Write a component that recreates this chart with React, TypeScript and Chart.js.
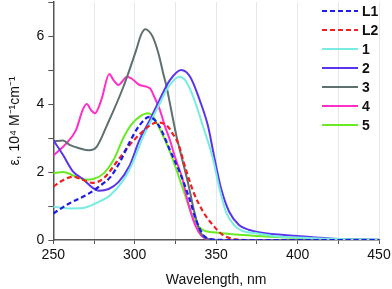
import React, { useEffect, useRef } from "react";
import { Chart, registerables } from "chart.js";

Chart.register(...registerables);

const seriesLabels = ["L1", "L2", "1", "2", "3", "4", "5"];

const wlL1 = [250, 260, 272, 278, 285, 291, 297, 303, 309, 315, 322, 328, 333, 338, 343, 350, 360, 450];
const epsL1 = [0.78, 1.08, 1.37, 1.57, 1.85, 2.3, 2.89, 3.38, 3.62, 3.35, 2.6, 1.95, 1.3, 0.55, 0.1, 0.01, 0, 0];

const wlL2 = [250, 256, 262, 268, 274, 281, 289, 297, 305, 311, 315, 320, 323, 327, 330, 336, 342, 348, 354, 362, 370, 450];
const epsL2 = [1.57, 1.76, 1.86, 1.77, 1.68, 1.82, 2.3, 2.8, 3.2, 3.42, 3.45, 3.35, 3.15, 2.8, 2.3, 1.42, 0.83, 0.44, 0.15, 0.02, 0, 0];

const wl1 = [250, 260, 268, 276, 285, 293, 299, 305, 310, 315, 320, 324, 327.5, 331, 336, 342, 348, 352, 356, 361, 366, 375, 385, 400, 430, 450];
const eps1 = [0.98, 0.93, 0.94, 1.08, 1.32, 1.76, 2.3, 3.02, 3.5, 3.98, 4.45, 4.7, 4.8, 4.7, 4.2, 3.33, 2.4, 1.52, 0.83, 0.44, 0.27, 0.2, 0.12, 0.07, 0.02, 0.01];

const wl2 = [250, 256, 262, 268, 274, 278, 284, 290, 297, 303, 309, 315, 321.6, 328.5, 334, 340, 345, 349, 353, 358, 364, 370, 377, 400, 426, 450];
const eps2 = [2.94, 2.5, 2.02, 1.8, 1.54, 1.45, 1.5, 1.7, 2.2, 2.95, 3.5, 4.1, 4.7, 5.0, 4.8, 4.1, 3.35, 2.4, 1.52, 0.83, 0.44, 0.3, 0.22, 0.12, 0.03, 0.01];

const wl3 = [250, 256, 260, 266, 272, 276.6, 283, 293, 301, 304, 306.5, 308.5, 311, 314.5, 317.5, 319.6, 321.6, 323.6, 325.7, 329, 333, 336, 340, 345, 350, 450];
const eps3 = [2.9, 2.93, 2.8, 2.7, 2.64, 2.74, 3.38, 4.5, 5.6, 6.05, 6.2, 6.15, 5.98, 5.5, 4.9, 4.5, 4.02, 3.53, 3.04, 2.4, 1.62, 0.95, 0.26, 0.03, 0, 0];

const wl4 = [250, 258, 264, 268, 270.5, 273.5, 275.6, 279.5, 284.4, 287, 289.9, 295.4, 298, 303, 309.3, 312.4, 315.5, 318.5, 321.6, 325, 329, 333, 337, 341, 345, 350, 450];
const eps4 = [2.48, 2.84, 3.24, 3.82, 4.0, 3.8, 3.73, 4.12, 4.88, 4.7, 4.56, 4.8, 4.75, 4.56, 4.46, 4.17, 3.82, 3.35, 2.94, 2.4, 1.85, 1.05, 0.45, 0.12, 0.02, 0, 0];

const wl5 = [250, 256, 264, 270, 275, 281, 287, 293, 298, 303, 308, 311, 315, 322, 330, 336, 342, 350, 362, 375, 400, 450];
const eps5 = [1.96, 2.0, 1.86, 1.77, 1.8, 1.96, 2.35, 3.0, 3.4, 3.63, 3.73, 3.65, 3.3, 2.55, 1.45, 0.64, 0.29, 0.22, 0.16, 0.12, 0.06, 0.01];

const xTicks = [250, 300, 350, 400, 450];
const yTicks = [0, 2, 4, 6];

const seriesX = [wlL1, wlL2, wl1, wl2, wl3, wl4, wl5];
const seriesY = [epsL1, epsL2, eps1, eps2, eps3, eps4, eps5];
const colors = ["#1c1ce8", "#f02020", "#78ece0", "#5a34ec", "#5f7070", "#ff2fc8", "#6aea22"];
const dashed = [true, true, false, false, false, false, false];

const FONT = "'Liberation Sans', Arial, sans-serif";

const legendPlugin = {
  id: "insideLegend",
  afterDraw(chart: any) {
    const ctx = chart.ctx;
    ctx.save();
    chart.data.datasets.forEach((ds: any, i: number) => {
      const y = 11 + i * 19;
      ctx.beginPath();
      ctx.strokeStyle = ds.borderColor;
      ctx.lineWidth = ds.borderWidth;
      ctx.setLineDash(ds.borderDash || []);
      ctx.moveTo(322, y);
      ctx.lineTo(358, y);
      ctx.stroke();
      ctx.setLineDash([]);
      ctx.fillStyle = "#111";
      ctx.font = `bold 14px ${FONT}`;
      ctx.textBaseline = "middle";
      ctx.textAlign = "left";
      ctx.fillText(ds.label, 362, y + 1);
    });
    ctx.restore();
  },
};

export default function App() {
  const ref = useRef<HTMLCanvasElement | null>(null);
  useEffect(() => {
    if (!ref.current) return;
    const datasets = seriesLabels.map((label, i) => ({
      label,
      data: seriesX[i].map((x, j) => ({ x, y: seriesY[i][j] })),
      borderColor: colors[i],
      backgroundColor: colors[i],
      borderWidth: dashed[i] ? 2.2 : 2,
      borderDash: dashed[i] ? [5, 3] : [],
      pointRadius: 0,
      cubicInterpolationMode: "monotone" as const,
      fill: false,
    }));
    const chart = new Chart(ref.current, {
      type: "line",
      data: { datasets },
      plugins: [legendPlugin],
      options: {
        responsive: false,
        animation: false,
        layout: { padding: { left: 0, right: 13, top: 2, bottom: 0 } },
        plugins: { legend: { display: false }, tooltip: { enabled: false } },
        scales: {
          x: {
            type: "linear",
            min: 250,
            max: 450,
            afterFit: (s: any) => {
              s.height = 49;
              s.paddingLeft = 0;
              s.paddingRight = 0;
            },
            ticks: {
              stepSize: 25,
              autoSkip: false,
              maxRotation: 0,
              padding: 3,
              color: "#111",
              font: { family: FONT, size: 14 },
              callback: (v: any) => (xTicks.includes(Number(v)) ? String(v) : ""),
            },
            grid: {
              color: (c: any) => (c.tick && c.tick.value === 250 ? "rgba(0,0,0,0)" : "#e3e8ef"),
              tickColor: "#555",
              tickLength: 4,
              lineWidth: 1,
            },
            border: { color: "#555", width: 1.5 },
            title: {
              display: true,
              text: "Wavelength, nm",
              color: "#111",
              font: { family: FONT, size: 14 },
              padding: { top: 4, bottom: 0 },
            },
          },
          y: {
            min: 0,
            max: 7,
            afterFit: (s: any) => {
              s.width = 53.3;
              s.paddingTop = 0;
              s.paddingBottom = 0;
            },
            ticks: {
              stepSize: 1,
              autoSkip: false,
              padding: 4,
              color: "#111",
              font: { family: FONT, size: 14 },
              callback: (v: any) => (yTicks.includes(Number(v)) ? String(v) : ""),
            },
            grid: { drawOnChartArea: false, tickColor: "#555", tickLength: 5 },
            border: { color: "#555", width: 1.5 },
            title: {
              display: true,
              text: "ε, 10⁴ M⁻¹cm⁻¹",
              color: "#111",
              font: { family: FONT, size: 14 },
              padding: { top: 7, bottom: 0 },
            },
          },
        },
      },
    });
    return () => chart.destroy();
  }, []);
  return (
    <div style={{ position: "fixed", left: 0, top: 0, width: 392, height: 289, background: "#fff" }}>
      <canvas ref={ref} width={392} height={289} style={{ display: "block" }} />
    </div>
  );
}
